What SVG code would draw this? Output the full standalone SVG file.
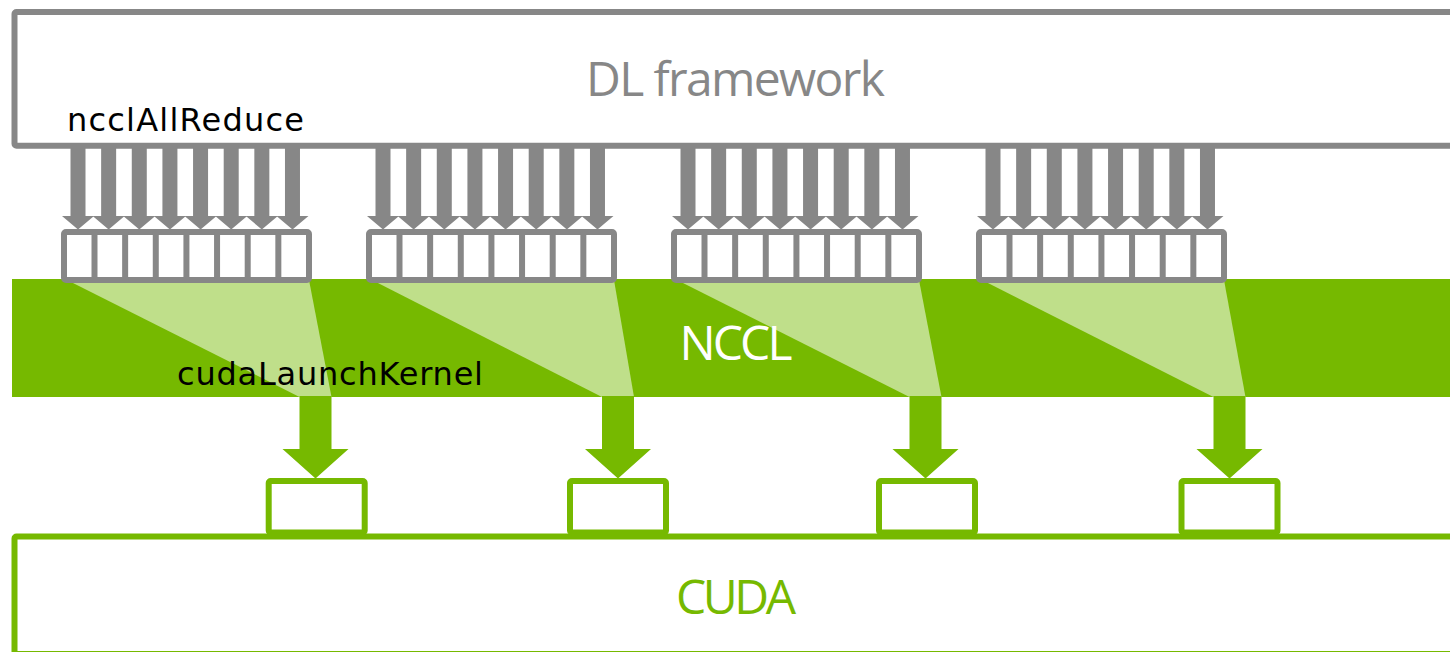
<svg xmlns="http://www.w3.org/2000/svg" xmlns:xlink="http://www.w3.org/1999/xlink" width="1450" height="652" viewBox="0 0 1450 652">
<defs>
<style>
.gbox{fill:#fff;stroke:#878787;stroke-width:6}
.gdiv{fill:none;stroke:#878787;stroke-width:6}
.kbox{fill:#fff;stroke:#76b900;stroke-width:6}
.light{fill:#bfdf8a}
.t{font-family:"Open Sans","DejaVu Sans",sans-serif}
.big{font-size:48px}
.small{font-family:"DejaVu Sans","Open Sans",sans-serif;font-size:32px;fill:#000}
</style>
<path id="garrow" d="M-7.5,146 H7.5 V216 H16 L0,229.5 L-16,216 H-7.5 Z" fill="#878787"/>
<path id="karrow" d="M-16,396 H16 V449 H33 L0,478.5 L-33,449 H-16 Z" fill="#76b900"/>
</defs>
<rect width="1450" height="652" fill="#fff"/>

<g id="dl-framework">
<rect x="14.5" y="12" width="1450" height="133.8" rx="2" fill="#fff" stroke="#878787" stroke-width="6"/>
<text class="t big" x="735.5" y="96" text-anchor="middle" fill="#878787" textLength="299">DL framework</text>
<text class="small" x="67" y="131" textLength="237">ncclAllReduce</text>
</g>

<g id="cuda">
<rect x="14.5" y="536.5" width="1450" height="117.5" rx="2" fill="#fff" stroke="#76b900" stroke-width="6"/>
<text class="t big" x="736" y="614" text-anchor="middle" fill="#76b900" textLength="120">CUDA</text>
</g>

<g id="nccl">
<rect x="12" y="279" width="1440" height="118" fill="#76b900"/>
<polygon class="light" points="67,280 309,280 331.5,397 299.5,397"/>
<polygon class="light" points="372,280 614,280 634,397 602,397"/>
<polygon class="light" points="677,280 919,280 941.5,397 909.5,397"/>
<polygon class="light" points="982,280 1224,280 1245.5,397 1213.5,397"/>
<text class="t big" x="736" y="359.5" text-anchor="middle" fill="#fff" textLength="113">NCCL</text>
<text class="small" x="177" y="385" textLength="306">cudaLaunchKernel</text>
</g>

<g id="connectors">
<use xlink:href="#garrow" x="78"/><use xlink:href="#garrow" x="108.64"/><use xlink:href="#garrow" x="139.28"/><use xlink:href="#garrow" x="169.92"/><use xlink:href="#garrow" x="200.56"/><use xlink:href="#garrow" x="231.2"/><use xlink:href="#garrow" x="261.84"/><use xlink:href="#garrow" x="292.48"/>
<use xlink:href="#garrow" x="383"/><use xlink:href="#garrow" x="413.64"/><use xlink:href="#garrow" x="444.28"/><use xlink:href="#garrow" x="474.92"/><use xlink:href="#garrow" x="505.56"/><use xlink:href="#garrow" x="536.2"/><use xlink:href="#garrow" x="566.84"/><use xlink:href="#garrow" x="597.48"/>
<use xlink:href="#garrow" x="688"/><use xlink:href="#garrow" x="718.64"/><use xlink:href="#garrow" x="749.28"/><use xlink:href="#garrow" x="779.92"/><use xlink:href="#garrow" x="810.56"/><use xlink:href="#garrow" x="841.2"/><use xlink:href="#garrow" x="871.84"/><use xlink:href="#garrow" x="902.48"/>
<use xlink:href="#garrow" x="993"/><use xlink:href="#garrow" x="1023.64"/><use xlink:href="#garrow" x="1054.28"/><use xlink:href="#garrow" x="1084.92"/><use xlink:href="#garrow" x="1115.56"/><use xlink:href="#garrow" x="1146.2"/><use xlink:href="#garrow" x="1176.84"/><use xlink:href="#garrow" x="1207.48"/>
<use xlink:href="#karrow" x="315.5"/>
<use xlink:href="#karrow" x="618"/>
<use xlink:href="#karrow" x="925.5"/>
<use xlink:href="#karrow" x="1229.5"/>
</g>

<g id="buffer-1" transform="translate(61,0)">
<rect class="gbox" x="3" y="232" width="245" height="48" rx="2"/>
<path class="gdiv" d="M33.5,232V280M64.14,232V280M94.78,232V280M125.42,232V280M156.06,232V280M186.7,232V280M217.34,232V280"/>
</g>
<g id="buffer-2" transform="translate(366,0)">
<rect class="gbox" x="3" y="232" width="245" height="48" rx="2"/>
<path class="gdiv" d="M33.5,232V280M64.14,232V280M94.78,232V280M125.42,232V280M156.06,232V280M186.7,232V280M217.34,232V280"/>
</g>
<g id="buffer-3" transform="translate(671,0)">
<rect class="gbox" x="3" y="232" width="245" height="48" rx="2"/>
<path class="gdiv" d="M33.5,232V280M64.14,232V280M94.78,232V280M125.42,232V280M156.06,232V280M186.7,232V280M217.34,232V280"/>
</g>
<g id="buffer-4" transform="translate(976,0)">
<rect class="gbox" x="3" y="232" width="245" height="48" rx="2"/>
<path class="gdiv" d="M33.5,232V280M64.14,232V280M94.78,232V280M125.42,232V280M156.06,232V280M186.7,232V280M217.34,232V280"/>
</g>

<g id="kernel-1"><rect class="kbox" x="268.7" y="481" width="96" height="51.5" rx="2"/></g>
<g id="kernel-2"><rect class="kbox" x="570" y="481" width="96" height="51.5" rx="2"/></g>
<g id="kernel-3"><rect class="kbox" x="879" y="481" width="96" height="51.5" rx="2"/></g>
<g id="kernel-4"><rect class="kbox" x="1181.5" y="481" width="96" height="51.5" rx="2"/></g>
</svg>
